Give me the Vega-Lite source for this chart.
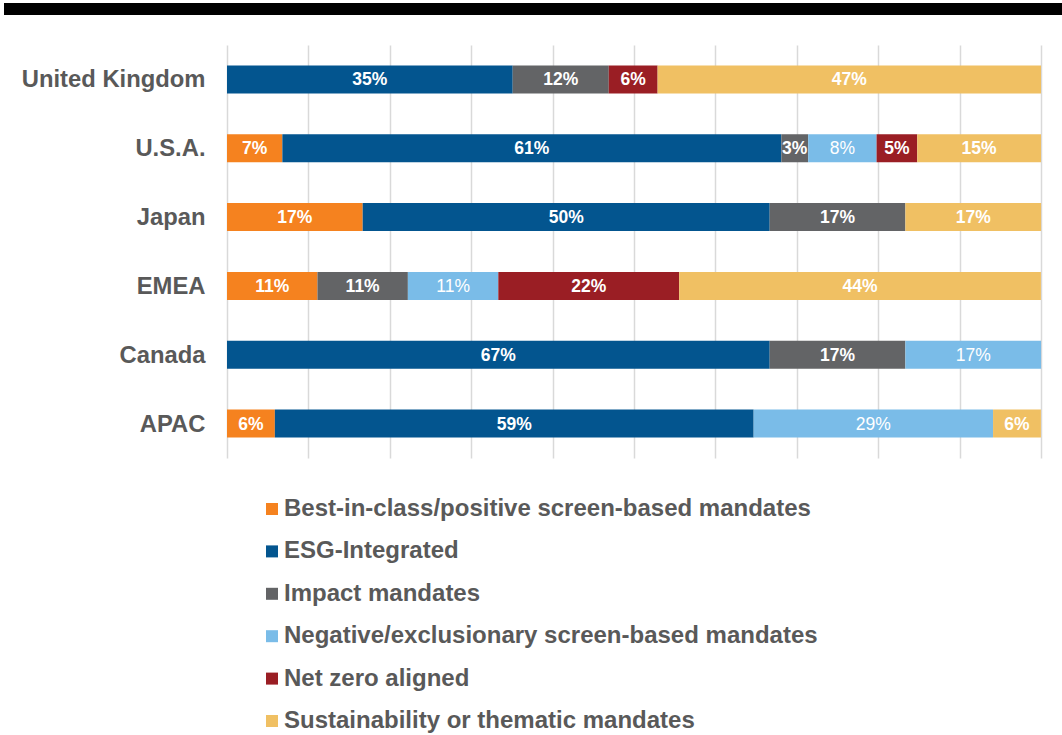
{
  "$schema": "https://vega.github.io/schema/vega-lite/v6.json",
  "padding": {"left": 4, "top": 3, "right": 0, "bottom": 0},
  "spacing": 30,
  "columns": 1,
  "align": "none",
  "background": "white",
  "config": {
    "view": {"stroke": null},
    "font": "Liberation Sans",
    "legend": {
      "orient": "none",
      "legendX": 33,
      "legendY": 494,
      "direction": "vertical",
      "labelFontSize": 24,
      "labelFontWeight": "bold",
      "labelColor": "#595959",
      "symbolType": "square",
      "symbolSize": 144,
      "symbolStrokeWidth": 0,
      "symbolOpacity": 1,
      "rowPadding": 18.4,
      "labelOffset": 0,
      "padding": 0,
      "labelLimit": 1000
    }
  },
  "datasets": {
    "topbar": [{"from": 0, "to": 1}],
    "shares": [
      {"region": "United Kingdom", "category": "ESG-Integrated", "share": 0.351},
      {"region": "United Kingdom", "category": "Impact mandates", "share": 0.118},
      {"region": "United Kingdom", "category": "Net zero aligned", "share": 0.060},
      {"region": "United Kingdom", "category": "Sustainability or thematic mandates", "share": 0.471},
      {"region": "U.S.A.", "category": "Best-in-class/positive screen-based mandates", "share": 0.068},
      {"region": "U.S.A.", "category": "ESG-Integrated", "share": 0.613},
      {"region": "U.S.A.", "category": "Impact mandates", "share": 0.033},
      {"region": "U.S.A.", "category": "Negative/exclusionary screen-based mandates", "share": 0.084},
      {"region": "U.S.A.", "category": "Net zero aligned", "share": 0.050},
      {"region": "U.S.A.", "category": "Sustainability or thematic mandates", "share": 0.152},
      {"region": "Japan", "category": "Best-in-class/positive screen-based mandates", "share": 0.1667},
      {"region": "Japan", "category": "ESG-Integrated", "share": 0.5},
      {"region": "Japan", "category": "Impact mandates", "share": 0.1667},
      {"region": "Japan", "category": "Sustainability or thematic mandates", "share": 0.1667},
      {"region": "EMEA", "category": "Best-in-class/positive screen-based mandates", "share": 0.1111},
      {"region": "EMEA", "category": "Impact mandates", "share": 0.1111},
      {"region": "EMEA", "category": "Negative/exclusionary screen-based mandates", "share": 0.1111},
      {"region": "EMEA", "category": "Net zero aligned", "share": 0.2222},
      {"region": "EMEA", "category": "Sustainability or thematic mandates", "share": 0.4444},
      {"region": "Canada", "category": "ESG-Integrated", "share": 0.6667},
      {"region": "Canada", "category": "Impact mandates", "share": 0.1667},
      {"region": "Canada", "category": "Negative/exclusionary screen-based mandates", "share": 0.1667},
      {"region": "APAC", "category": "Best-in-class/positive screen-based mandates", "share": 0.0588},
      {"region": "APAC", "category": "ESG-Integrated", "share": 0.5882},
      {"region": "APAC", "category": "Negative/exclusionary screen-based mandates", "share": 0.2941},
      {"region": "APAC", "category": "Sustainability or thematic mandates", "share": 0.0588}
    ]
  },
  "concat": [
    {
      "data": {"name": "topbar"},
      "width": 835,
      "height": 12,
      "mark": {"type": "rect", "color": "#000000"},
      "encoding": {
        "x": {"field": "from", "type": "quantitative", "scale": {"domain": [0, 1], "range": [-223, 835]}, "axis": null},
        "x2": {"field": "to"}
      }
    },
    {
      "data": {"name": "shares"},
      "width": 814,
      "height": 413,
      "encoding": {
        "y": {
          "field": "region",
          "type": "nominal",
          "sort": ["United Kingdom", "U.S.A.", "Japan", "EMEA", "Canada", "APAC"],
          "scale": {"paddingInner": 0.593, "paddingOuter": 0.2965},
          "axis": {
            "title": null,
            "ticks": false,
            "domain": false,
            "labelFontSize": 23.8,
            "labelFontWeight": "bold",
            "labelColor": "#595959",
            "labelPadding": 22,
            "labelLimit": 400,
            "labelOffset": 1,
            "minExtent": 223,
            "maxExtent": 223
          }
        }
      },
      "layer": [
        {
          "mark": {"type": "bar"},
          "encoding": {
            "x": {
              "field": "share",
              "type": "quantitative",
              "stack": "zero",
              "scale": {"domain": [0, 1], "nice": false},
              "axis": {
                "values": [0, 0.1, 0.2, 0.3, 0.4, 0.5, 0.6, 0.7, 0.8, 0.9, 1],
                "labels": false,
                "ticks": false,
                "domain": false,
                "grid": true,
                "gridColor": "#D9D9D9",
                "gridWidth": 1.5,
                "title": null
              }
            },
            "color": {
              "field": "category",
              "type": "nominal",
              "title": null,
              "scale": {
                "domain": [
                  "Best-in-class/positive screen-based mandates",
                  "ESG-Integrated",
                  "Impact mandates",
                  "Negative/exclusionary screen-based mandates",
                  "Net zero aligned",
                  "Sustainability or thematic mandates"
                ],
                "range": ["#F5821F", "#03558F", "#636466", "#7ABCE8", "#9A1E24", "#F0C063"]
              }
            },
            "order": {"field": "category", "sort": "ascending"}
          }
        },
        {
          "transform": [
            {"stack": "share", "groupby": ["region"], "sort": [{"field": "category", "order": "ascending"}], "as": ["s0", "s1"]},
            {"calculate": "(datum.s0 + datum.s1) / 2", "as": "mid"},
            {"filter": "datum.category != 'Negative/exclusionary screen-based mandates'"}
          ],
          "mark": {"type": "text", "color": "#FFFFFF", "fontWeight": "bold", "fontSize": 17.5, "baseline": "middle", "align": "center", "dy": 1},
          "encoding": {
            "x": {"field": "mid", "type": "quantitative"},
            "text": {"field": "share", "type": "quantitative", "format": ".0%"}
          }
        },
        {
          "transform": [
            {"stack": "share", "groupby": ["region"], "sort": [{"field": "category", "order": "ascending"}], "as": ["s0", "s1"]},
            {"calculate": "(datum.s0 + datum.s1) / 2", "as": "mid"},
            {"filter": "datum.category == 'Negative/exclusionary screen-based mandates'"}
          ],
          "mark": {"type": "text", "color": "#FFFFFF", "fontWeight": "normal", "fontSize": 17.5, "baseline": "middle", "align": "center", "dy": 1},
          "encoding": {
            "x": {"field": "mid", "type": "quantitative"},
            "text": {"field": "share", "type": "quantitative", "format": ".0%"}
          }
        }
      ]
    }
  ]
}
